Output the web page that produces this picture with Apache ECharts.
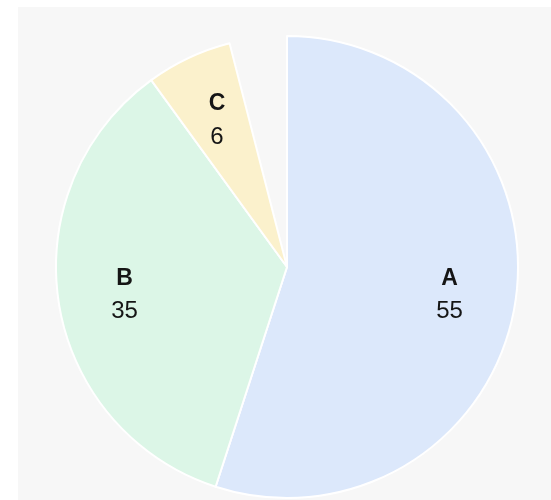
<!DOCTYPE html>
<html>
<head>
<meta charset="utf-8">
<script src="https://cdn.jsdelivr.net/npm/echarts@6/dist/echarts.min.js"></script>
<style>
html,body{margin:0;padding:0;background:#ffffff;}
#c{width:551px;height:500px;}
</style>
</head>
<body>
<div id="c"></div>
<script>
const categories = ['A', 'B', 'C', ''];
const values = [55, 35, 6, 4];
const colors = ['#dce8fb', '#dcf6e7', '#fbf1cc', 'rgba(0,0,0,0)'];

const chart = echarts.init(document.getElementById('c'), null, {renderer: 'canvas'});

const pieData = categories.map((n, i) => ({
  name: n,
  value: values[i],
  itemStyle: {color: colors[i], borderColor: i === 3 ? 'rgba(0,0,0,0)' : '#ffffff', borderWidth: i === 3 ? 0 : 2}
}));
const labelData = categories.map((n, i) => ({
  name: n,
  value: values[i],
  label: {show: n !== ''}
}));

chart.setOption({
  backgroundColor: 'transparent',
  animation: false,
  graphic: [{
    type: 'rect', left: 18, top: 7, z: -10,
    shape: {width: 533, height: 493},
    style: {fill: '#f7f7f7'}
  }],
  series: [
    {
      type: 'pie',
      center: [287, 267],
      radius: [0, 231],
      startAngle: 90,
      clockwise: true,
      silent: true,
      label: {show: false},
      labelLine: {show: false},
      data: pieData
    },
    {
      type: 'pie',
      center: [287, 267],
      radius: [92, 231],
      startAngle: 90,
      clockwise: true,
      silent: true,
      itemStyle: {color: 'rgba(0,0,0,0)', borderWidth: 0},
      labelLine: {show: false},
      label: {
        show: true,
        position: 'inside',
        padding: [5, 0, 0, 0],
        formatter: p => '{n|' + p.name + '}\n{v|' + p.value + '}',
        rich: {
          n: {fontFamily: 'Liberation Sans, Arial, sans-serif', fontSize: 23, fontWeight: 'bold', color: '#151515', lineHeight: 33},
          v: {fontFamily: 'Liberation Sans, Arial, sans-serif', fontSize: 24, color: '#151515', lineHeight: 33}
        }
      },
      data: labelData
    }
  ]
});
</script>
</body>
</html>
